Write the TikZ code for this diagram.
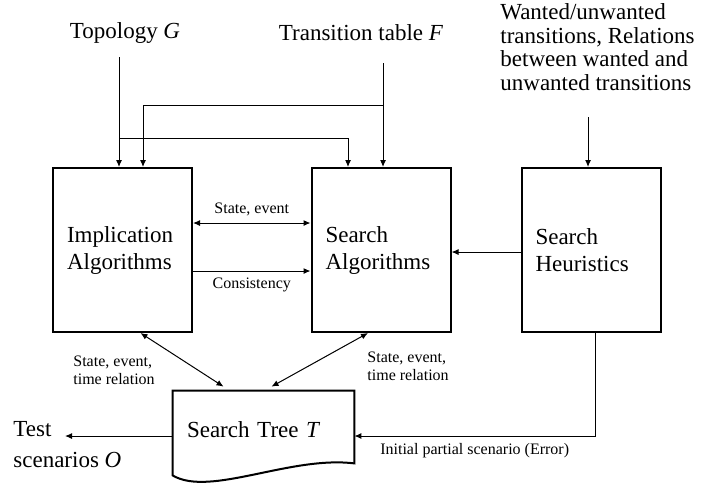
\documentclass[tikz,border=0pt]{standalone}
\usepackage{fontspec}
\setmainfont{Liberation Serif}
\usetikzlibrary{arrows.meta,positioning,calc}

\tikzset{
  algbox/.style={draw, line width=1pt, minimum width=69.5pt, minimum height=82pt,
    inner xsep=7pt, text width=55.5pt, align=left, font=\fontsize{11.5}{13.5}\selectfont},
  doc/.style={minimum width=90.5pt, minimum height=39pt, inner xsep=7pt,
    text width=76.5pt, align=left, font=\fontsize{11.5}{13.5}\selectfont},
  big/.style={font=\fontsize{11.5}{14}\selectfont},
  small/.style={font=\fontsize{8}{9}\selectfont},
  arr/.style={line width=0.5pt, -{Latex[length=3.5pt,width=3pt]}},
  dbl/.style={line width=0.5pt, {Latex[length=3.5pt,width=3pt]}-{Latex[length=3.5pt,width=3pt]}},
}

\begin{document}
\begin{tikzpicture}[x=0.5pt, y=-0.5pt]

      \useasboundingbox (0,0) rectangle (704,483);

      \node[algbox] at (122.5,250) (impl) {Implication\\Algorithms};
      \node[algbox] at (381,250)   (srch) {Search\\Algorithms};
      \node[algbox] at (591,250)   (heur) {Search\\Heuristics};

      \node[doc] at (263.5,430) (tree) {Search Tree \textit{T}};

      \node[big] at (125,33) (topo) {Topology \textit{G}};
      \node[big] at (361,33) (ftab) {Transition table \textit{F}};
      \node[anchor=west, align=left, inner sep=0pt, font=\fontsize{11.5}{11.8}\selectfont]
        at (500,47) (want) {Wanted/unwanted\\transitions, Relations\\between wanted and\\unwanted transitions};
      \node[anchor=west, align=left, inner sep=0pt, font=\fontsize{11.5}{15.5}\selectfont]
        at (13,445) (outs) {Test\\scenarios \textit{O}};

      \coordinate (gin) at (119,57);
      \coordinate (gj) at (119,138);
      \coordinate (fin) at (383,63);
      \coordinate (fj) at (383,105);
      \coordinate (win) at (588,117);
      \coordinate (oend) at (65,436);

      \draw[arr] (gin)--(gin |- impl.north);
      \draw[arr] (gj) -| ([xshift=-16.5pt]srch.north);
      \draw[arr] (fin)--(fin |- srch.north);
      \draw[arr] (fj) -| ([xshift=10.25pt]impl.north);
      \draw[arr] (win)--(win |- heur.north);

      \draw[dbl] ([yshift=13.5pt]impl.east)--([yshift=13.5pt]srch.west)
        node[midway, above, small] (se) {State, event};
      \draw[arr] ([yshift=-10.5pt]impl.east)--([yshift=-10.5pt]srch.west)
        node[midway, below, small] (cons) {Consistency};
      \draw[arr] ([yshift=-1pt]heur.west)--([yshift=-1pt]srch.east);

      \draw[dbl] ([xshift=9pt]impl.south)--([xshift=-20pt,yshift=2pt]tree.north);
      \draw[dbl] ([xshift=-6.5pt]srch.south)--([xshift=4pt,yshift=2pt]tree.north);
      \node[small, anchor=west, align=left, inner sep=0pt] at (73,370) (st1) {State, event,\\time relation};
      \node[small, anchor=west, align=left, inner sep=0pt] at (367,366) (st2) {State, event,\\time relation};

      \draw[arr] ([xshift=2pt]heur.south) |- ([yshift=-3pt]tree.east)
        node[pos=0.75, below, small] (init) {Initial partial scenario (Error)};
      \draw[arr] ([yshift=-3pt]tree.west)--(oend);

      % document outline
      \draw[line width=1pt] ([yshift=-3pt]tree.south west)--(tree.north west)--(tree.north east)
        --([yshift=3pt]tree.south east)
        .. controls ([xshift=-32pt,yshift=7pt]tree.south east) and ([xshift=18.5pt,yshift=-14pt]tree.south west)
        .. ([yshift=-3pt]tree.south west)--cycle;
    \end{tikzpicture}
\end{document}
